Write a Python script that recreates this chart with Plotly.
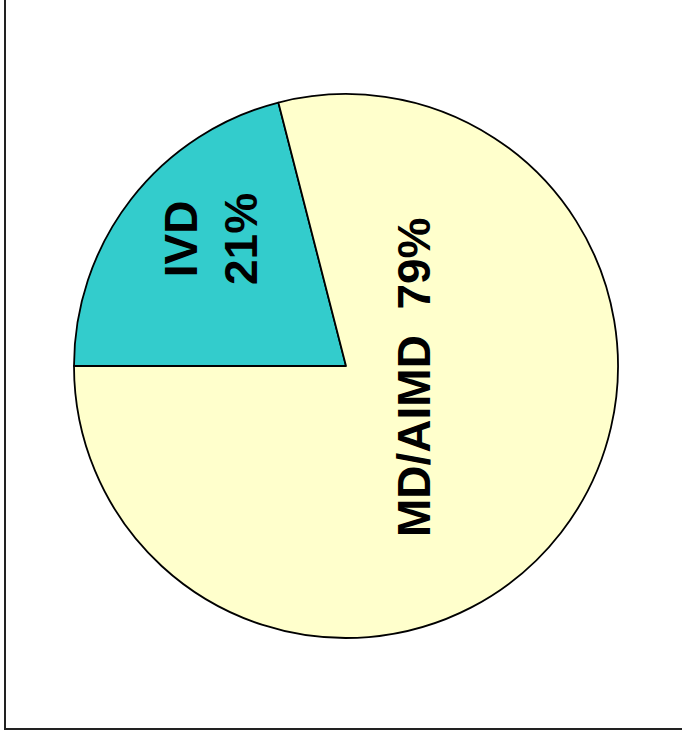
import plotly.graph_objects as go

labels = ["IVD", "MD/AIMD"]
values = [21, 79]
colors = ["#33CCCC", "#FFFFCC"]
label_text = ["IVD<br>21%", "MD/AIMD  79%"]

W, H = 682, 736
cx, cy, r = 346, 366, 272

def px(x):
    return x / W

def py(y):
    return 1 - y / H

fig = go.Figure(go.Pie(
    labels=labels,
    values=values,
    marker=dict(colors=colors, line=dict(color="black", width=1.8)),
    sort=False,
    direction="clockwise",
    rotation=-90,
    textinfo="none",
    hoverinfo="label+percent",
    domain=dict(x=[px(cx - r), px(cx + r)], y=[py(cy + r), py(cy - r)]),
    showlegend=False,
))

label_pos = [(211, 239), (414, 378)]
for txt, (lx, ly) in zip(label_text, label_pos):
    fig.add_annotation(
        x=px(lx), y=py(ly), xref="paper", yref="paper",
        xanchor="center", yanchor="middle",
        text="<b>" + txt + "</b>", showarrow=False, textangle=-90,
        font=dict(family="Liberation Sans, Arial, sans-serif", size=46, color="black"),
        align="center",
    )

fig.add_shape(type="rect", xref="paper", yref="paper",
              x0=px(5), x1=px(700), y0=py(729), y1=py(-20),
              line=dict(color="#222222", width=2))

fig.update_layout(
    width=W, height=H,
    margin=dict(l=0, r=0, t=0, b=0),
    paper_bgcolor="white",
    plot_bgcolor="white",
)

fig.write_html("out.html", config={"displayModeBar": False},
               post_script="document.body.style.margin='0';document.body.style.overflow='hidden';")
